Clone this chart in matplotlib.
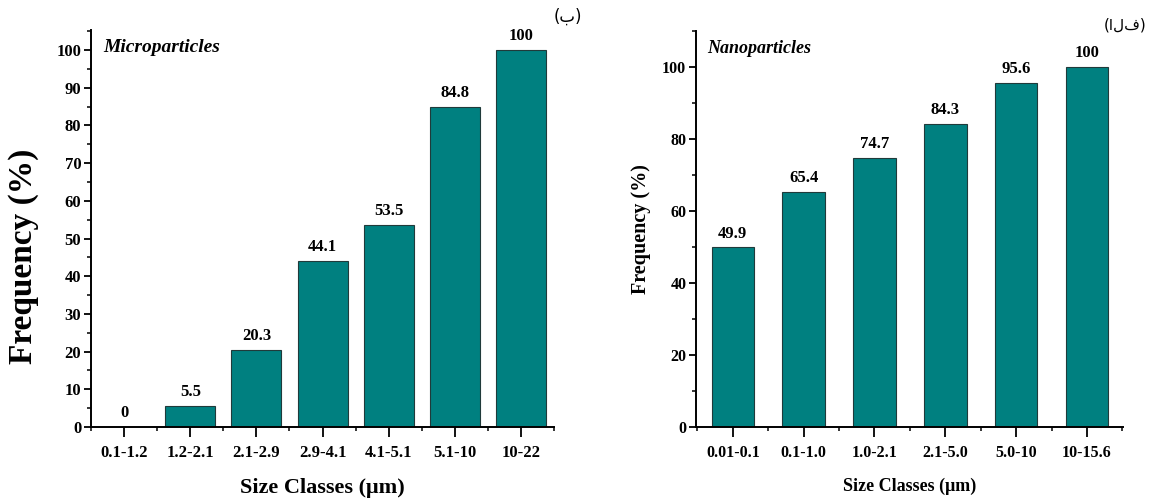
import numpy as np
import matplotlib
matplotlib.use("Agg")
import matplotlib.pyplot as plt
from matplotlib.ticker import MultipleLocator, FixedLocator

# --- Data ---
micro_classes = ["0.1-1.2", "1.2-2.1", "2.1-2.9", "2.9-4.1", "4.1-5.1", "5.1-10", "10-22"]
micro_freq = [0, 5.5, 20.3, 44.1, 53.5, 84.8, 100]
micro_labels = ["0", "5.5", "20.3", "44.1", "53.5", "84.8", "100"]

nano_classes = ["0.01-0.1", "0.1-1.0", "1.0-2.1", "2.1-5.0", "5.0-10", "10-15.6"]
nano_freq = [49.9, 65.4, 74.7, 84.3, 95.6, 100]
nano_labels = ["49.9", "65.4", "74.7", "84.3", "95.6", "100"]

BAR_COLOR = "#008080"
EDGE = "#203a3a"
SERIF = "Liberation Serif"

plt.rcParams["font.family"] = SERIF
plt.rcParams["font.weight"] = "bold"

fig = plt.figure(figsize=(11.51, 5.03), dpi=100)
ax1 = fig.add_axes([0.0791, 0.1511, 0.4023, 0.789])
ax2 = fig.add_axes([0.6047, 0.1511, 0.3710, 0.7873])


def style_axes(ax, n, xlim, ylim, major, minor, tick_fs):
    for s in ("top", "right"):
        ax.spines[s].set_visible(False)
    for s in ("left", "bottom"):
        ax.spines[s].set_linewidth(1.4)
    ax.set_xlim(*xlim)
    ax.set_ylim(*ylim)
    ax.yaxis.set_major_locator(MultipleLocator(major))
    ax.yaxis.set_minor_locator(MultipleLocator(minor))
    ax.set_xticks(np.arange(n))
    ax.xaxis.set_minor_locator(FixedLocator(np.arange(-1, n) + 0.5))
    ax.tick_params(axis="y", which="major", direction="out", length=5, width=1.3,
                   labelsize=tick_fs, pad=2)
    ax.tick_params(axis="y", which="minor", direction="out", length=3, width=1.1)
    ax.tick_params(axis="x", which="major", direction="out", length=7, width=1.3,
                   labelsize=tick_fs, pad=6)
    ax.tick_params(axis="x", which="minor", direction="out", length=3, width=1.1)
    for lab in ax.get_xticklabels() + ax.get_yticklabels():
        lab.set_fontweight("bold")


# --- Left panel: microparticles ---
x1 = np.arange(len(micro_classes))
ax1.bar(x1, micro_freq, width=0.755, color=BAR_COLOR, edgecolor=EDGE, linewidth=0.8)
for xi, v, t in zip(x1, micro_freq, micro_labels):
    ax1.text(xi, v + 1.6, t, ha="center", va="bottom", fontsize=12, fontweight="bold")
style_axes(ax1, len(micro_classes), (-0.5, 6.5), (0, 105.3), 10, 5, 12)
ax1.set_xticklabels(micro_classes)
ax1.set_xlabel("Size Classes (\u03bcm)", fontsize=16, fontweight="bold", labelpad=12)
ax1.set_ylabel("Frequency (%)", fontsize=24, fontweight="bold")
ax1.yaxis.set_label_coords(-0.112, 0.43)
ax1.text(0.026, 0.957, "Microparticles", transform=ax1.transAxes, ha="left", va="center",
         fontsize=14, fontweight="bold", style="italic")

# --- Right panel: nanoparticles ---
x2 = np.arange(len(nano_classes))
ax2.bar(x2, nano_freq, width=0.6, color=BAR_COLOR, edgecolor=EDGE, linewidth=0.8)
for xi, v, t in zip(x2, nano_freq, nano_labels):
    ax2.text(xi, v + 1.6, t, ha="center", va="bottom", fontsize=12, fontweight="bold")
style_axes(ax2, len(nano_classes), (-0.52, 5.51), (0, 110), 20, 10, 11.5)
ax2.set_xticklabels(nano_classes)
ax2.set_xlabel("Size Classes (\u03bcm)", fontsize=13, fontweight="bold", labelpad=12)
ax2.set_ylabel("Frequency (%)", fontsize=14.5, fontweight="bold", labelpad=8)
ax2.text(0.026, 0.955, "Nanoparticles", transform=ax2.transAxes, ha="left", va="center",
         fontsize=13, fontweight="bold", style="italic")

# --- Panel tags ---
fig.text(0.506, 0.966, "(\u0628)", ha="right", va="center", fontsize=12,
         family=["DejaVu Sans"], fontweight="normal")
fig.text(0.996, 0.95, "(\u0627\u0644\u0641)", ha="right", va="center", fontsize=11,
         family=["DejaVu Sans"], fontweight="normal")

fig.savefig("out.png", dpi=100)
